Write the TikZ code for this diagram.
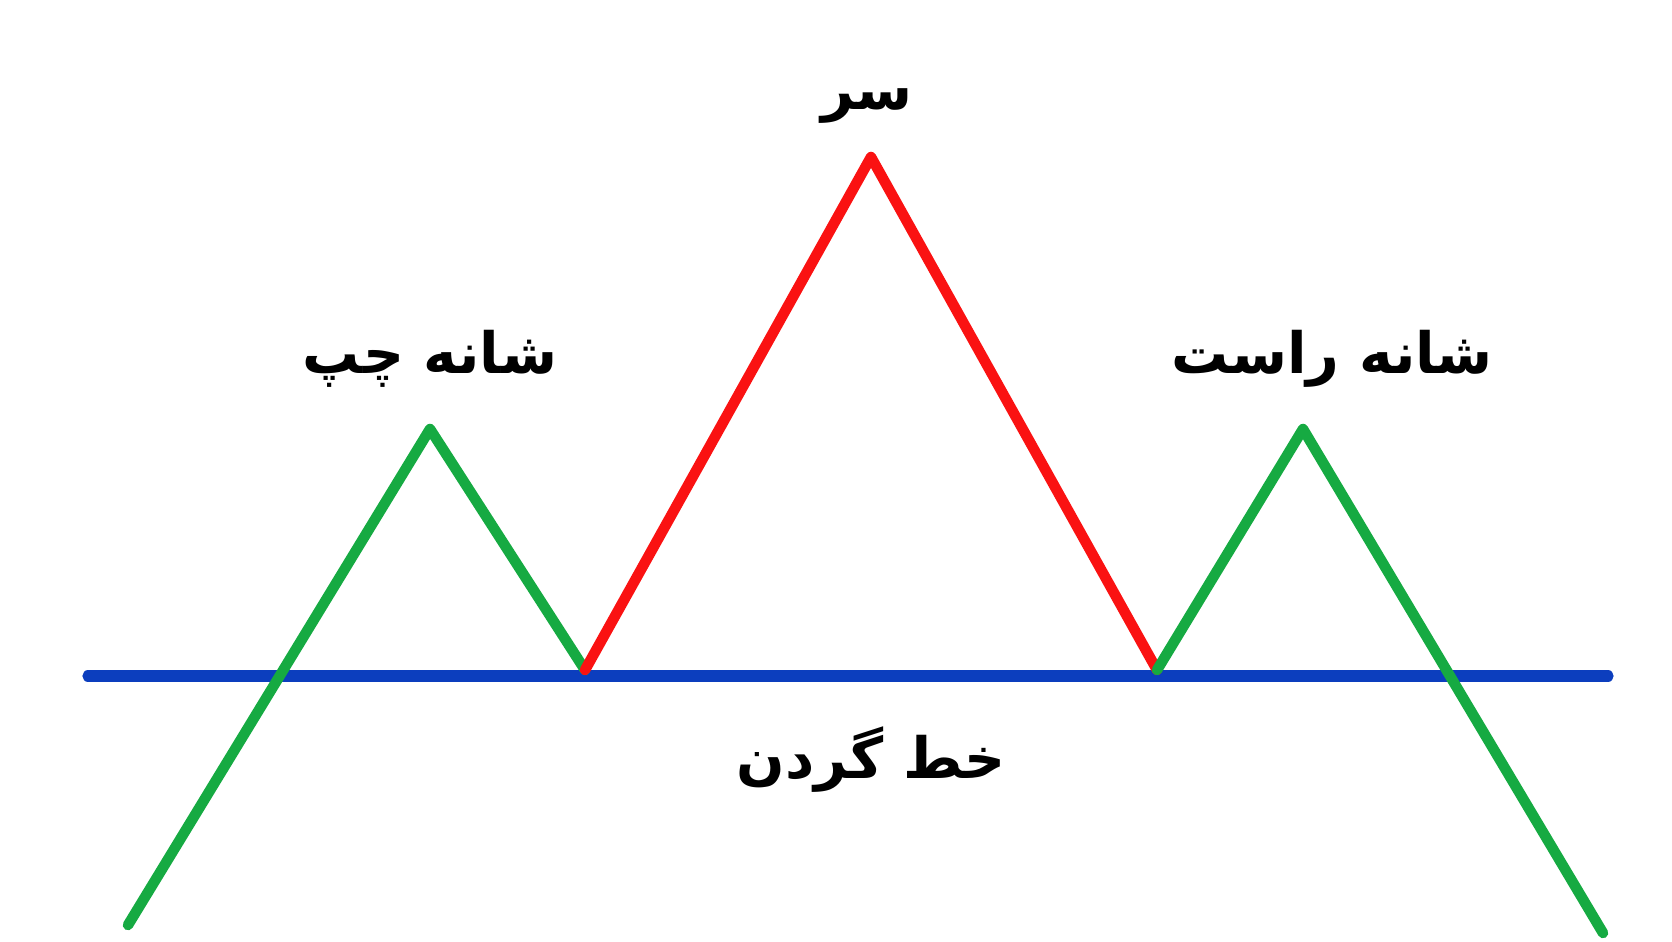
\documentclass[tikz,border=0pt]{standalone}
\usepackage{fontspec}
\newfontfamily\arabicfont[Script=Arabic]{DejaVu Sans}
\TeXXeTstate=1
\definecolor{shouldergreen}{RGB}{22,170,66}
\definecolor{headred}{RGB}{250,18,18}
\definecolor{neckblue}{RGB}{12,62,190}
\tikzstyle{shoulder} = [
 draw=shouldergreen,
 line width=3pt,
 line cap=round,
 line join=round
]
\tikzstyle{head} = [
 draw=headred,
 line width=3pt,
 line cap=round,
 line join=round
]
\tikzstyle{neck} = [
 draw=neckblue,
 line width=3.2pt,
 line cap=round
]
\tikzstyle{label} = [
 font=\arabicfont\bfseries\fontsize{16.2}{19}\selectfont,
 text=black
]

\begin{document}
\begin{tikzpicture}[x=0.01cm,y=-0.01cm]
  \useasboundingbox (0,0) rectangle (1672,941);
  \coordinate (start) at (128,925);
  \coordinate (lpeak) at (430,429);
  \coordinate (lvalley) at (585,670);
  \coordinate (top) at (871,157);
  \coordinate (rvalley) at (1157,670);
  \coordinate (rpeak) at (1303,429);
  \coordinate (finish) at (1603,933);
  \coordinate (necka) at (88,676);
  \coordinate (neckb) at (1608,676);
  % neckline first, the zigzag over it
  \draw [neck] (necka) -- (neckb);
  \draw [shoulder] (start) -- (lpeak) -- (lvalley);
  \draw [head] (lvalley) -- (top) -- (rvalley);
  \draw [shoulder] (rvalley) -- (rpeak) -- (finish);
  \node [label] (headtext) at (867,106) {\beginR سر\endR};
  \node [label] (lefttext) at (430,359) {\beginR شانه چپ\endR};
  \node [label] (righttext) at (1332,359) {\beginR شانه راست\endR};
  \node [label] (necktext) at (871,760) {\beginR خط گردن\endR};
\end{tikzpicture}
\end{document}
